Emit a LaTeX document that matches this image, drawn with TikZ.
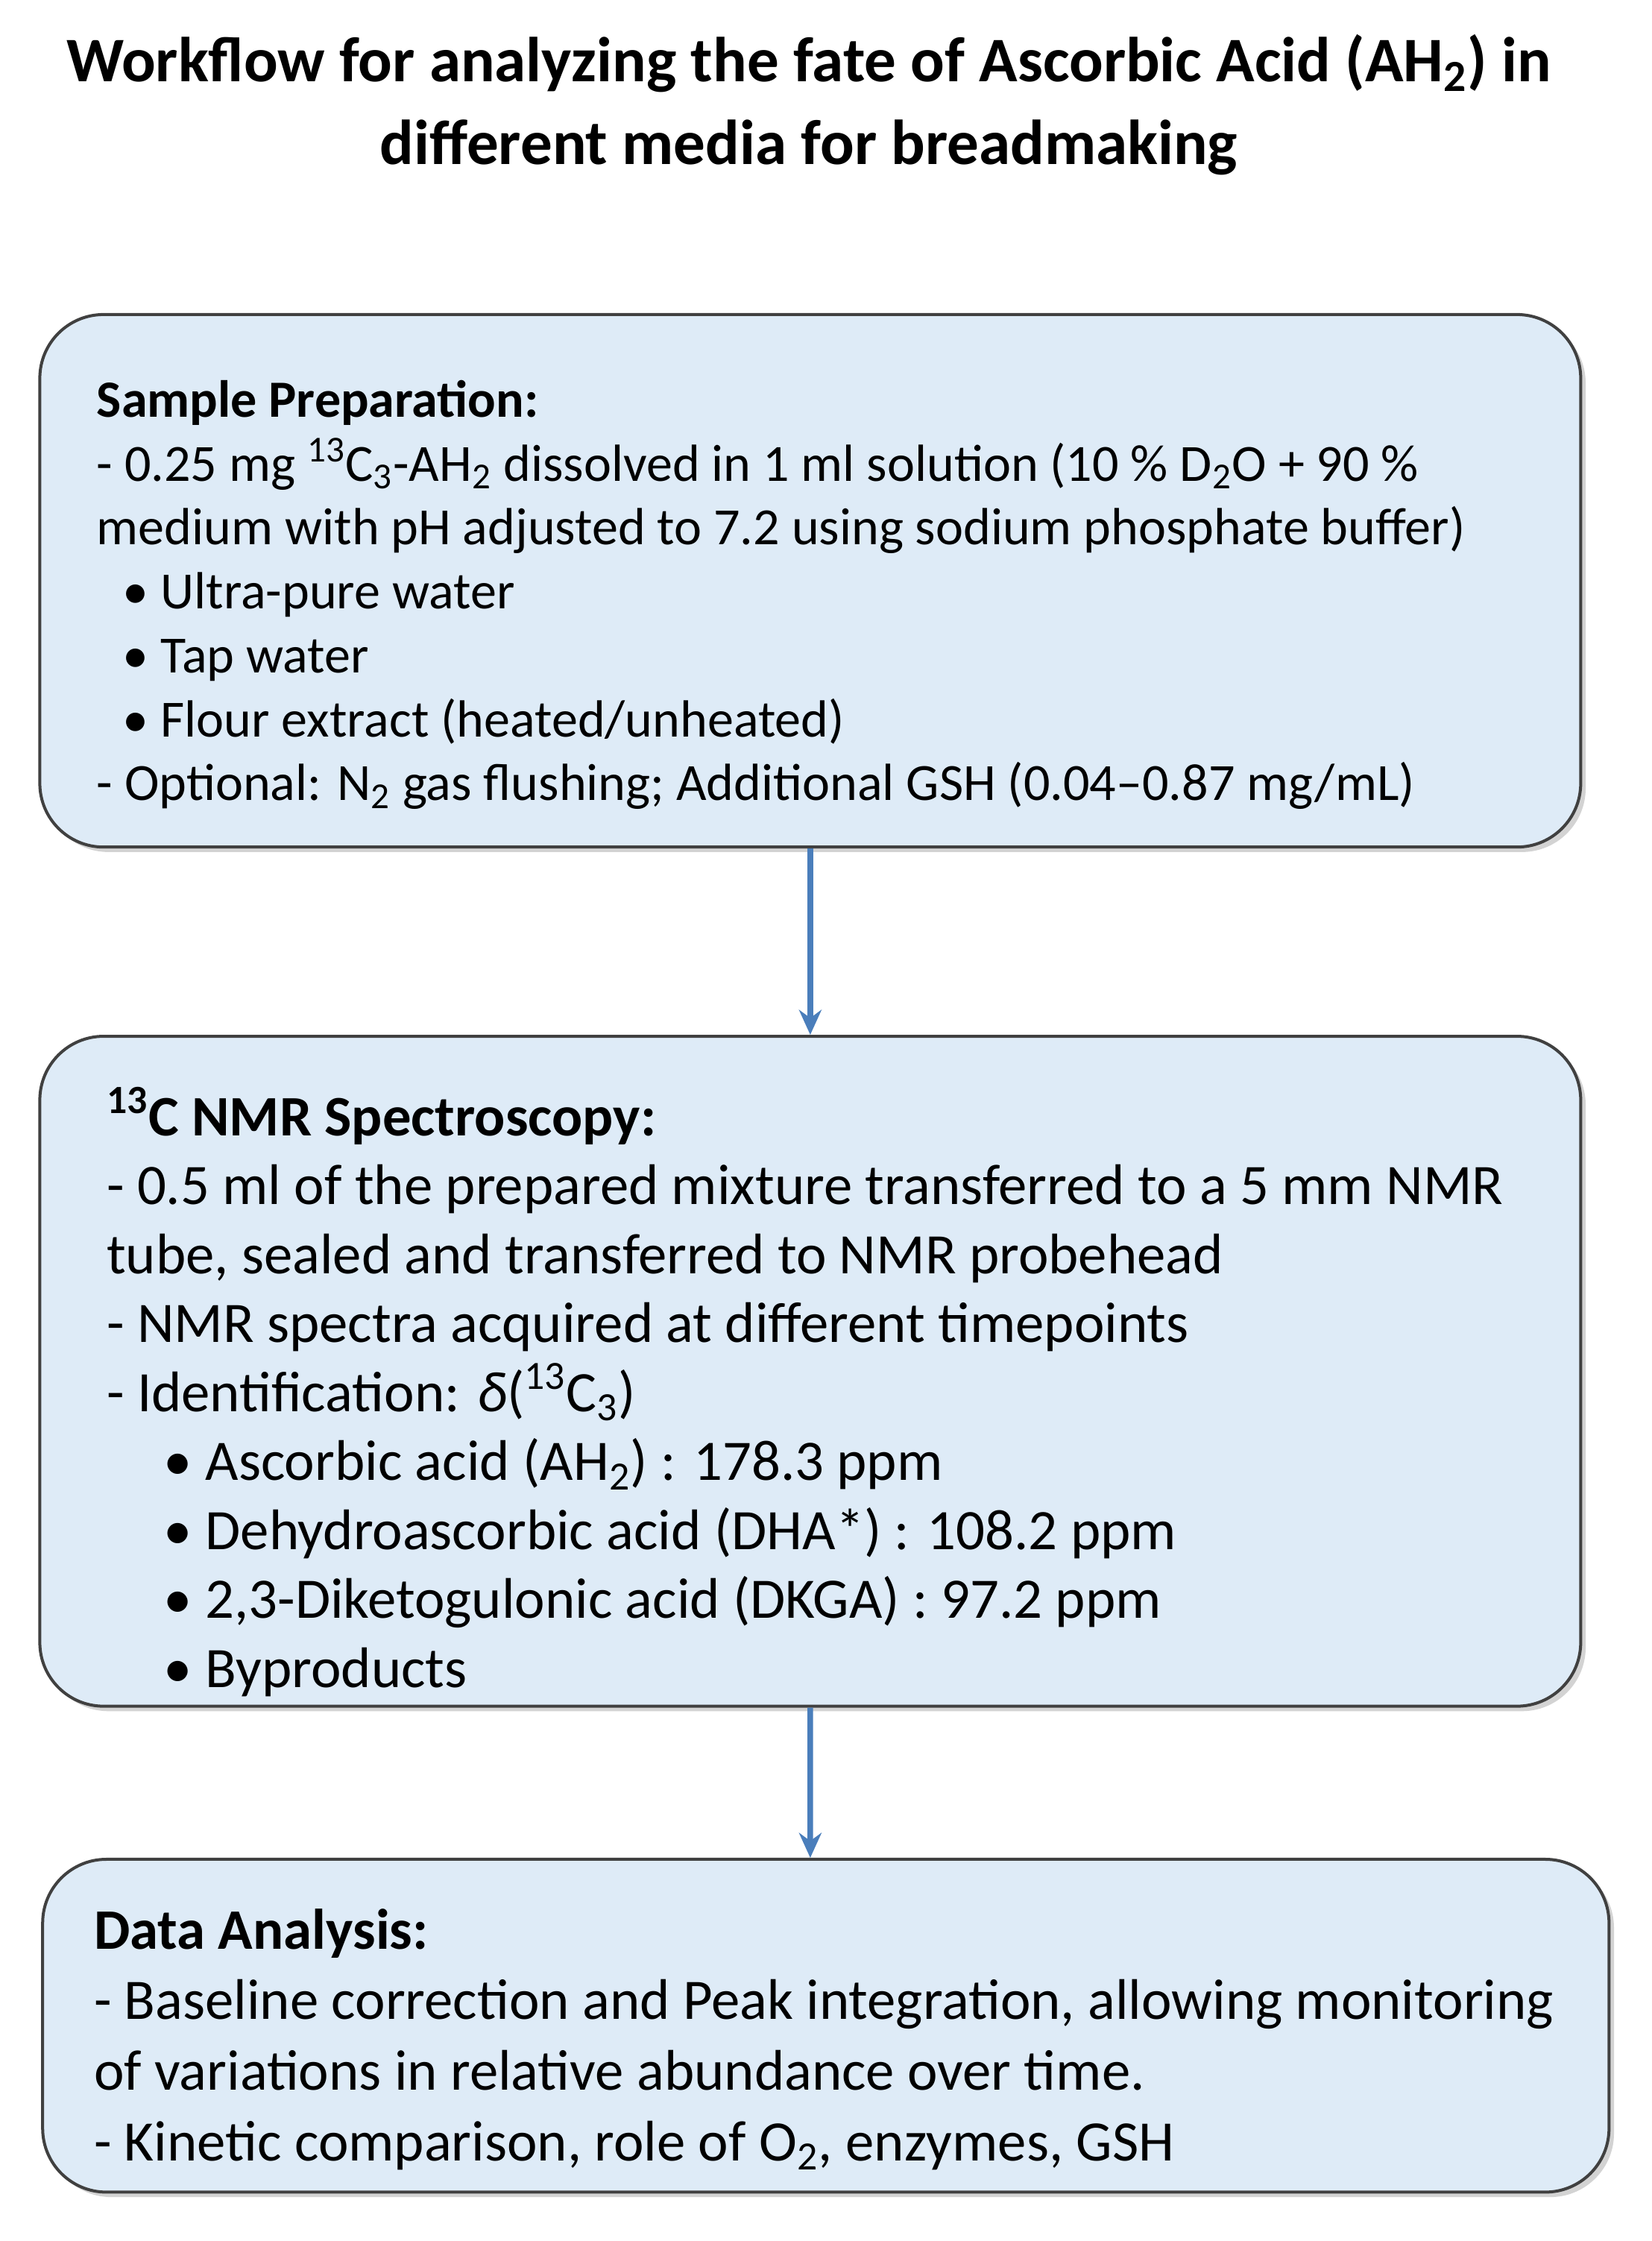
\documentclass[tikz,border=0pt]{standalone}
\usepackage{fontspec}
\setmainfont{Carlito}
\usetikzlibrary{shadows,arrows.meta}
\definecolor{boxfill}{HTML}{DEEBF7}
\definecolor{arrowc}{HTML}{4A7EBB}
\newcommand{\sbs}[1]{\textsubscript{#1}}
\newcommand{\sps}[1]{\textsuperscript{#1}}
\begin{document}
\begin{tikzpicture}[x=0.02cm,y=-0.02cm,
  box/.style={draw=black!75,line width=1.2pt,fill=boxfill,rounded corners=0.9cm,drop shadow={opacity=0.35,shadow xshift=2pt,shadow yshift=-2pt}},
  txt/.style={anchor=north west,align=left,inner sep=0pt,font=\fontsize{21}{25.7}\selectfont},
  arr/.style={draw=arrowc,line width=2.2pt,-{Stealth[length=10pt,width=9pt]}}]
\useasboundingbox (0,0) rectangle (1166,1582);
\node[font=\bfseries\fontsize{25.5}{33}\selectfont,align=center] (title) at (571,74)
 {Workflow for analyzing the fate of Ascorbic Acid (AH\sbs{2}) in\\ different media for breadmaking};
\node[box,minimum width=21.76cm,minimum height=7.52cm] (b1) at (572,410) {};
\node[box,minimum width=21.76cm,minimum height=9.46cm] (b2) at (572,968) {};
\node[box,minimum width=22.12cm,minimum height=4.7cm] (b3) at (583,1430) {};
\node[txt] (t1) at (68,268) {\textbf{Sample Preparation:}\\
- 0.25 mg \sps{13}C\sbs{3}-AH\sbs{2} dissolved in 1 ml solution (10 \% D\sbs{2}O + 90 \%\\
medium with pH adjusted to 7.2 using sodium phosphate buffer)\\
\hspace{0.5em}\textbullet\ Ultra-pure water\\
\hspace{0.5em}\textbullet\ Tap water\\
\hspace{0.5em}\textbullet\ Flour extract (heated/unheated)\\
- Optional: N\sbs{2} gas flushing; Additional GSH (0.04--0.87 mg/mL)};
\node[txt,font=\fontsize{23}{27.7}\selectfont] (t2) at (75,767) {\textbf{\sps{13}C NMR Spectroscopy:}\\
- 0.5 ml of the prepared mixture transferred to a 5 mm NMR\\
tube, sealed and transferred to NMR probehead\\
- NMR spectra acquired at different timepoints\\
- Identification: \textit{δ}(\sps{13}C\sbs{3})\\
\hspace{1em}\textbullet\ Ascorbic acid (AH\sbs{2}) : 178.3 ppm\\
\hspace{1em}\textbullet\ Dehydroascorbic acid (DHA*) : 108.2 ppm\\
\hspace{1em}\textbullet\ 2,3-Diketogulonic acid (DKGA) : 97.2 ppm\\
\hspace{1em}\textbullet\ Byproducts};
\node[txt,font=\fontsize{23}{28.4}\selectfont] (t3) at (66,1347) {\textbf{Data Analysis:}\\
- Baseline correction and Peak integration, allowing monitoring\\
of variations in relative abundance over time.\\
- Kinetic comparison, role of O\sbs{2}, enzymes, GSH};
\draw[arr] (b1.south) -- (b2.north);
\draw[arr] (b2.south) -- ([xshift=-0.22cm]b3.north);
\end{tikzpicture}
\end{document}
